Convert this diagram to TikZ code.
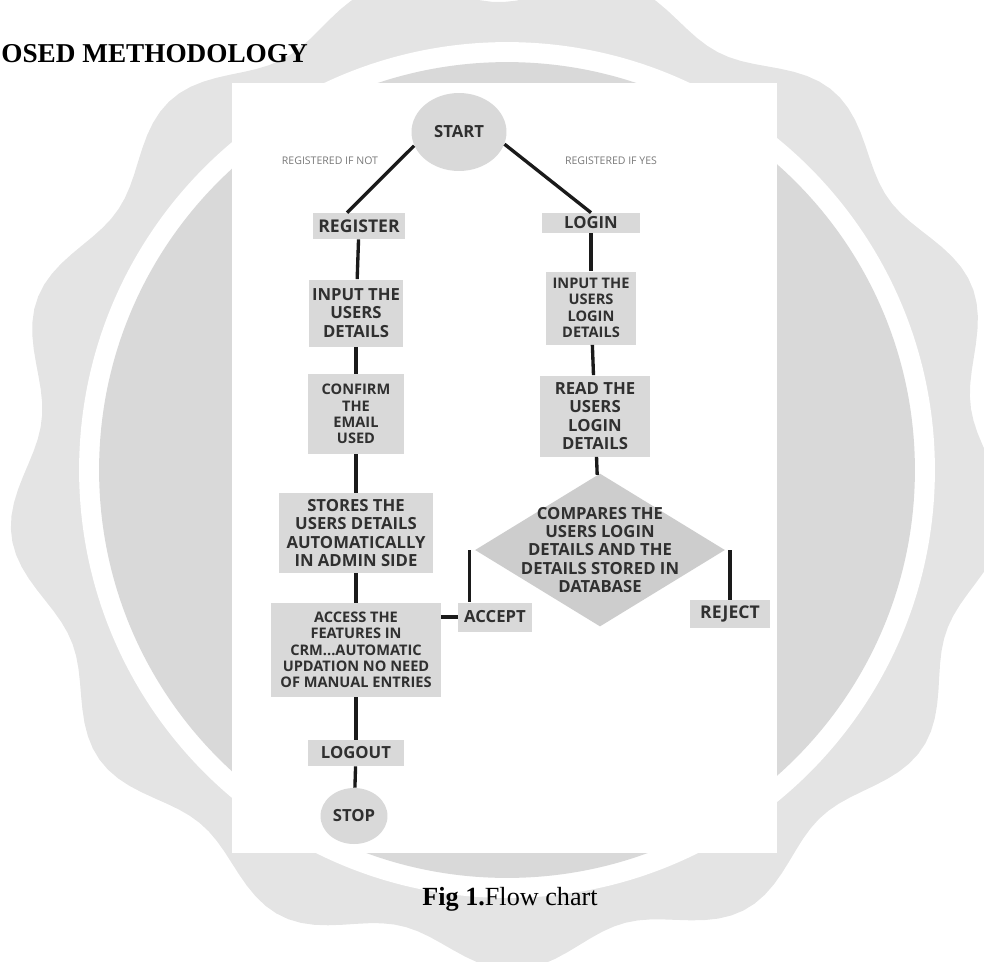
\documentclass[tikz,border=0pt]{standalone}
\usepackage{fontspec}
\setmainfont{Liberation Serif}
\newfontfamily\chartfont{Open Sans}
\usetikzlibrary{shapes.geometric}
\definecolor{fcgray}{HTML}{D9D9D9}
\definecolor{fcdiamond}{HTML}{CDCDCD}
\definecolor{fctext}{HTML}{303030}
\definecolor{fcnote}{HTML}{7A7A7A}
\definecolor{fcline}{HTML}{1A1A1A}
\definecolor{bgouter}{HTML}{E4E4E4}
\definecolor{bgdisk}{HTML}{D9D9D9}

\begin{document}
\begin{tikzpicture}[
  x=0.02cm, y=-0.02cm,
  every node/.style={font=\chartfont\bfseries\fontsize{9.5}{10.5}\selectfont, text=fctext},
  stepbox/.style={rectangle, fill=fcgray, inner sep=1pt, align=center},
  smallbox/.style={stepbox, font=\chartfont\bfseries\fontsize{8.3}{9.3}\selectfont},
  termnode/.style={ellipse, fill=fcgray, inner sep=0pt, align=center},
  decision/.style={diamond, fill=fcdiamond, inner sep=0pt},
  dlabel/.style={align=center},
  branchnote/.style={font=\chartfont\fontsize{6}{7}\selectfont, text=fcnote},
  link/.style={line width=1.9pt, fcline},
]
\useasboundingbox (0,0) rectangle (984,961);

% Seal watermark behind the figure
\fill[bgouter] plot[domain=0:360, samples=240, variable=\t]
  ({507+(484+16*cos(13*(\t-160)))*cos(\t)}, {470-(484+16*cos(13*(\t-160)))*sin(\t)}) -- cycle;
\fill[white] (507,470) circle[radius=8.56cm];
\fill[bgdisk] (507,470) circle[radius=8.16cm];
\fill[white] (232,83) rectangle (777,853);

% Heading and caption
\node[anchor=base west, inner sep=0pt, font=\rmfamily\bfseries\fontsize{15.5}{18}\selectfont, text=black] (heading) at (1,62) {OSED METHODOLOGY};
\node[anchor=base, font=\rmfamily\fontsize{14.9}{18}\selectfont, text=black] (caption) at (510,905) {\textbf{Fig 1.}Flow chart};

% Top
\node[termnode, minimum width=1.9cm, minimum height=1.56cm] (start) at (459,132) {START};
\node[branchnote] (noteno) at (330,161) {REGISTERED IF NOT};
\node[branchnote] (noteyes) at (611,161) {REGISTERED IF YES};

% Left side: Register
\node[stepbox, minimum width=1.86cm, minimum height=0.52cm, font=\chartfont\bfseries\fontsize{10}{11}\selectfont] (register) at (359,226) {REGISTER};
\node[stepbox, minimum width=1.9cm, minimum height=1.34cm] (inuser) at (356,313) {INPUT THE\\USERS\\DETAILS};
\node[smallbox, minimum width=1.94cm, minimum height=1.6cm] (confirm) at (356,414) {CONFIRM\\THE\\EMAIL\\USED};
\node[stepbox, minimum width=3.08cm, minimum height=1.6cm] (stores) at (356,533) {STORES THE\\USERS DETAILS\\AUTOMATICALLY\\IN ADMIN SIDE};
\node[smallbox, minimum width=3.4cm, minimum height=1.88cm] (access) at (356,650) {ACCESS THE\\FEATURES IN\\CRM...AUTOMATIC\\UPDATION NO NEED\\OF MANUAL ENTRIES};
\node[stepbox, minimum width=1.94cm, minimum height=0.52cm] (logout) at (356,753) {LOGOUT};
\node[termnode, minimum width=1.34cm, minimum height=1.12cm] (stop) at (354,816) {STOP};

% Right side: Login
\node[stepbox, minimum width=1.96cm, minimum height=0.4cm] (login) at (591,223) {LOGIN};
\node[smallbox, minimum width=1.82cm, minimum height=1.46cm] (inlogin) at (591,308) {INPUT THE\\USERS\\LOGIN\\DETAILS};
\node[stepbox, minimum width=2.2cm, minimum height=1.62cm] (readlogin) at (595,416) {READ THE\\USERS\\LOGIN\\DETAILS};
\node[decision, minimum width=5cm, minimum height=3.06cm,
  label={[dlabel]center:COMPARES THE\\USERS LOGIN\\DETAILS AND THE\\DETAILS STORED IN\\DATABASE}] (compare) at (600,550) {};
\node[stepbox, minimum width=1.48cm, minimum height=0.58cm] (accept) at (495,617) {ACCEPT};
\node[stepbox, minimum width=1.6cm, minimum height=0.56cm, font=\chartfont\bfseries\fontsize{10}{11}\selectfont] (reject) at (730,614) {REJECT};
\coordinate (accturn) at ([xshift=-0.1cm]compare.west);

% Connectors
\draw[link] (start.197) -- ([xshift=-0.24cm]register.north);
\draw[link] (start.345) -- (login.north);
\draw[link] (register) -- (inuser);
\draw[link] (inuser) -- (confirm);
\draw[link] (confirm) -- (stores);
\draw[link] (stores) -- (access);
\draw[link] (access) -- (logout);
\draw[link] (logout) -- (stop);
\draw[link] (login) -- (inlogin);
\draw[link] (inlogin) -- (readlogin);
\draw[link] (readlogin) -- (compare);
\draw[link] (accturn) -- (accturn |- accept.north);
\draw[link] (reject.north |- compare.east) -- (reject.north);
\draw[link] (accept.west) -- (accept.west -| access.east);

\end{tikzpicture}
\end{document}
